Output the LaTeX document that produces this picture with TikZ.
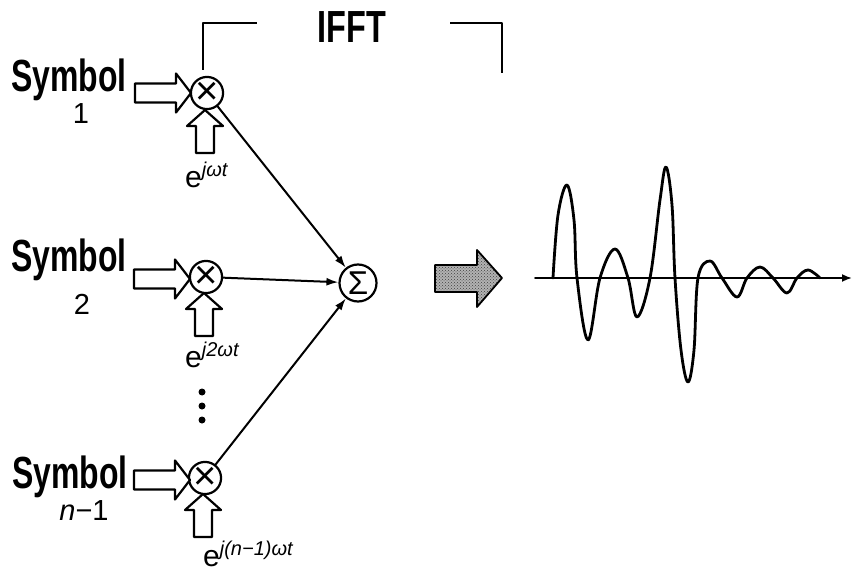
\documentclass[tikz,border=0pt]{standalone}
\usepackage{fontspec}
\setmainfont{Liberation Sans}
\newfontfamily\condfont{Liberation Sans}[FakeStretch=0.71]
\newfontfamily\ifftfont{Liberation Sans}[FakeStretch=0.72]
\usetikzlibrary{arrows.meta,patterns}
\newcommand{\symtxt}{{\condfont\bfseries\fontsize{45}{47}\selectfont Symbol}}
\newcommand{\numtxt}[1]{{\fontsize{29}{30}\selectfont #1}}
\newcommand{\expo}[1]{{\fontsize{30}{32}\selectfont e}\raisebox{11pt}{\fontsize{20}{22}\selectfont\itshape #1}}
\begin{document}
\begin{tikzpicture}[x=1pt,y=-1pt,
  line cap=round, line join=round,
  mult/.style={draw, circle, line width=2.2pt, minimum size=31pt, inner sep=0pt, font=\fontsize{40}{40}\selectfont},
  summ/.style={draw, circle, line width=2.2pt, minimum size=37pt, inner sep=0pt, font=\fontsize{33}{33}\selectfont},
  conn/.style={line width=2pt, -{Latex[length=12pt,width=8pt]}},
  block/.style={draw, line width=2.2pt, fill=white},
  harrow/.pic={\path[block] (0,0) -- (-15,-19.5) -- (-15,-9.5) -- (-56,-9.5) -- (-56,9.5) -- (-15,9.5) -- (-15,19.5) -- cycle;},
  varrow/.pic={\path[block] (0,0) -- (18,16) -- (9,16) -- (9,43) -- (-9,43) -- (-9,16) -- (-18,16) -- cycle;},
  wave/.style={line width=2.8pt}
]
\path[use as bounding box] (0,0) rectangle (852,572);

% IFFT bracket and title
\draw[line width=2.2pt, line cap=butt] (203,70) -- (203,23) -- (257,23);
\draw[line width=2.2pt, line cap=butt] (450,23) -- (502,23) -- (502,73);
\node[anchor=base, inner sep=0pt] (ifft) at (352,43) {\ifftfont\bfseries\fontsize{45}{47}\selectfont IFFT};

% symbol labels
\node[anchor=base west, inner sep=0pt] (s1) at (11,92) {\symtxt};
\node[anchor=base, inner sep=0pt] (n1) at (81,124) {\numtxt{1}};
\node[anchor=base west, inner sep=0pt] (s2) at (11,272) {\symtxt};
\node[anchor=base, inner sep=0pt] (n2) at (82,315) {\numtxt{2}};
\node[anchor=base west, inner sep=0pt] (s3) at (12,488) {\symtxt};
\node[anchor=base, inner sep=0pt] (n3) at (84,520) {\numtxt{\itshape n\upshape −1}};

% multipliers and sum
\node[mult] (m1) at (207,93) {×};
\node[mult] (m2) at (206,277) {×};
\node[mult] (m3) at (205,478) {×};
\node[summ] (sum) at (358,283) {Σ};

% block arrows
\pic at (191,93) {harrow};
\pic at (190,279) {harrow};
\pic at (190,480) {harrow};
\pic at (205,110) {varrow};
\pic at (204,293) {varrow};
\pic at (203,494) {varrow};

% exponent labels
\node[anchor=base west, inner sep=0pt] (e1) at (185,188) {\expo{jωt}};
\node[anchor=base west, inner sep=0pt] (e2) at (185,367) {\expo{j2ωt}};
\node[anchor=base west, inner sep=0pt] (e3) at (203,566) {\expo{j(n−1)ωt}};

% dots
\fill (202,392) circle (3.5pt) (202,406) circle (3.5pt) (202,420) circle (3.5pt);

% connectors
\draw[conn] (m1) -- (sum);
\draw[conn] (m2) -- (sum);
\draw[conn] (m3) -- (sum);

% gray arrow
\path[fill=black!30] (502,278) -- (477,250) -- (477,265) -- (435,265) -- (435,292) -- (477,292) -- (477,307) -- cycle;
\path[pattern=crosshatch dots, pattern color=black!75] (502,278) -- (477,250) -- (477,265) -- (435,265) -- (435,292) -- (477,292) -- (477,307) -- cycle;
\path[draw, line width=1.8pt] (502,278) -- (477,250) -- (477,265) -- (435,265) -- (435,292) -- (477,292) -- (477,307) -- cycle;

% time axis
\coordinate (ax0) at (535,278);
\coordinate (ax1) at (852,278);
\draw[line width=1.8pt, -{Latex[length=10pt,width=8pt]}] (ax0) -- (ax1);

% waveform
\draw[wave] plot[smooth, tension=0.6] coordinates {
 (553,278) (558,215) (567,185) (574,220) (577,278) (588,340) (600,278) (615,249) (628,278)
 (637,317) (650,278) (660,200) (666,167) (672,205) (675,278) (681,350) (688,382) (694,350) (698,278) (710,261) (722,278)
 (737,297) (747,278) (760,267) (773,278) (787,293) (797,278) (808,270) (820,278)};
\end{tikzpicture}
\end{document}
